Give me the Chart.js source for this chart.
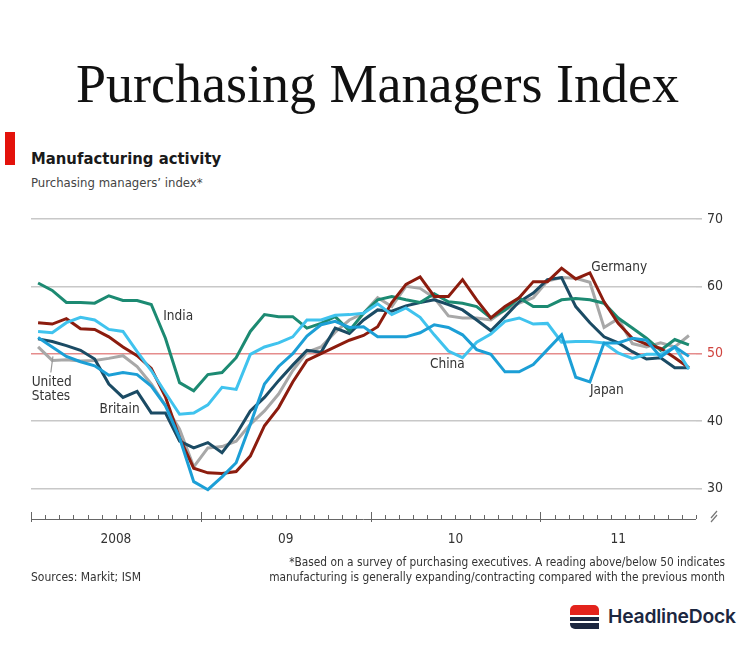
<!DOCTYPE html>
<html>
<head>
    <meta charset="utf-8">
    <title>Purchasing Managers Index</title>
    <script src="https://cdn.jsdelivr.net/npm/chart.js"></script>
    <style>
        body { margin: 0; background: #fff; }
        #page { position: relative; width: 755px; height: 650px; overflow: hidden; font-family: 'DejaVu Sans Condensed', sans-serif; color: #333; }
        .abs { position: absolute; white-space: nowrap; }
        #bigtitle { left: 0; width: 755px; top: 57px; text-align: center; font-family: 'Liberation Serif', serif; font-size: 54px; line-height: 54px; color: #111; }
        #redbar { left: 5px; top: 132px; width: 10px; height: 33px; background: #e3120b; }
        #title { left: 31px; top: 149px; font-size: 16.5px; font-weight: bold; color: #1a1a1a; }
        #subtitle { left: 31px; top: 175px; font-size: 13px; color: #444; }
        #chartbox { left: 0; top: 200px; width: 755px; height: 380px; }
        #note { right: 30px; top: 555px; font-size: 11.8px; line-height: 15px; text-align: right; color: #333; }
        #source { left: 31px; top: 570px; font-size: 12px; color: #333; }
        #logo { left: 570px; top: 605px; width: 30px; height: 25px; }
        #logo div { position: absolute; left: 0; width: 29px; }
        #logotext { left: 608px; top: 604px; font-family: Inter, sans-serif; font-weight: 600; font-size: 19.3px; color: #1c2740; letter-spacing: -0.2px; }
    </style>
</head>
<body>
<div id="page">
    <div class="abs" id="bigtitle">Purchasing Managers Index</div>
    <div class="abs" id="redbar"></div>
    <div class="abs" id="title">Manufacturing activity</div>
    <div class="abs" id="subtitle">Purchasing managers’ index*</div>
    <div class="abs" id="chartbox"><canvas id="pmiChart"></canvas></div>
    <div class="abs" id="note">*Based on a survey of purchasing executives. A reading above/below 50 indicates<br>manufacturing is generally expanding/contracting compared with the previous month</div>
    <div class="abs" id="source">Sources: Markit; ISM</div>
    <div class="abs" id="logo">
        <div style="top:0;height:10px;background:#e3231c;border-radius:5px 5px 0 0;"></div>
        <div style="top:12px;height:4px;background:#1c2740;"></div>
        <div style="top:18px;height:6px;background:#1c2740;border-radius:0 0 0 5px;"></div>
    </div>
    <div class="abs" id="logotext">HeadlineDock</div>
</div>

<script>
    // months Jan 2008 .. Nov 2011
    var months = [];
    for (var yr = 2008; yr <= 2011; yr++) {
        for (var mo = 1; mo <= 12; mo++) {
            if (yr === 2011 && mo > 11) break;
            months.push(yr + "-" + mo);
        }
    }

    var india = [60.5, 59.4, 57.6, 57.6, 57.5, 58.6, 57.9, 57.9, 57.3, 52.3, 45.7, 44.5,
                 46.9, 47.2, 49.4, 53.3, 55.8, 55.5, 55.5, 53.8, 54.5, 55.5, 53.4, 56.0,
                 58.0, 58.5, 58.0, 57.6, 58.9, 57.7, 57.5, 57.0, 55.3, 56.5, 58.3, 57.0,
                 57.0, 58.0, 58.2, 58.0, 57.5, 55.3, 53.8, 52.3, 50.5, 52.1, 51.3];
    var germany = [54.6, 54.4, 55.2, 53.7, 53.6, 52.5, 51.0, 49.7, 47.8, 43.6, 37.5, 33.0,
                   32.3, 32.2, 32.5, 34.8, 39.3, 42.0, 45.8, 49.0, 50.0, 51.0, 52.0, 52.7,
                   54.0, 57.6, 60.3, 61.4, 58.5, 58.5, 61.0, 58.0, 55.3, 57.0, 58.3, 60.7,
                   60.7, 62.7, 61.1, 62.0, 57.7, 54.5, 52.3, 51.4, 50.8, 49.4, 47.9];
    var britain = [52.2, 51.8, 51.2, 50.5, 49.2, 45.5, 43.5, 44.4, 41.2, 41.2, 37.0, 36.0,
                   36.8, 35.3, 38.0, 41.5, 43.5, 46.0, 48.3, 50.5, 50.2, 53.8, 53.0, 55.0,
                   56.5, 56.3, 57.1, 57.6, 58.0, 57.3, 56.5, 55.0, 53.4, 55.5, 57.7, 59.0,
                   61.0, 61.3, 57.0, 54.6, 52.5, 51.6, 50.3, 49.2, 49.4, 47.9, 47.9];
    var unitedStates = [51.0, 49.0, 49.1, 48.9, 49.0, 49.3, 49.7, 48.1, 45.5, 42.3, 38.8, 33.2,
                        36.0, 36.2, 37.0, 39.5, 41.5, 44.0, 47.5, 50.2, 51.0, 53.2, 55.0, 56.0,
                        58.3, 57.0, 60.0, 59.7, 58.3, 55.6, 55.3, 55.3, 55.0, 56.5, 57.5, 58.3,
                        60.8, 61.3, 61.2, 60.6, 53.9, 55.2, 51.5, 51.0, 51.6, 51.0, 52.7];
    var china = [53.3, 53.1, 54.6, 55.4, 55.0, 53.6, 53.3, 50.3, 47.5, 44.2, 41.0, 41.2,
                 42.4, 45.0, 44.7, 49.9, 51.0, 51.6, 52.5, 55.0, 55.0, 55.7, 55.8, 56.0,
                 57.4, 55.8, 56.8, 55.4, 52.8, 50.4, 49.4, 51.7, 52.9, 54.8, 55.3, 54.4,
                 54.5, 51.7, 51.8, 51.8, 51.6, 50.1, 49.3, 49.9, 49.9, 51.0, 47.7];
    var japan = [52.4, 51.0, 49.6, 48.8, 48.2, 46.8, 47.2, 46.9, 45.2, 42.3, 37.5, 31.0,
                 29.8, 31.7, 33.8, 39.5, 45.5, 48.1, 50.0, 52.6, 54.3, 54.8, 53.9, 54.0,
                 52.5, 52.5, 52.5, 53.1, 54.3, 53.9, 52.8, 50.6, 49.9, 47.3, 47.3, 48.4,
                 50.6, 52.8, 46.5, 45.8, 51.6, 51.6, 52.3, 52.0, 49.5, 51.0, 49.6];

    var yTicks = [30, 40, 50, 60, 70];
    var yearLabels = ["2008", "09", "10", "11"];
    var yearLabelMonth = [6, 18, 30, 41.5];

    var textFont = "'DejaVu Sans Condensed', sans-serif";

    function toPoints(values) {
        return values.map(function (v, i) { return { x: i + 0.5, y: v }; });
    }

    function series(label, values, color) {
        return {
            label: label,
            data: toPoints(values),
            borderColor: color,
            borderWidth: 3,
            pointRadius: 0,
            tension: 0,
            fill: false
        };
    }

    // line labels, placed in data units (month index, index value)
    var lineLabels = [
        { text: "India", m: 9.35, v: 55.5 },
        { text: "United", m: 0.05, v: 45.7 },
        { text: "States", m: 0.05, v: 43.6 },
        { text: "Britain", m: 4.85, v: 41.7 },
        { text: "China", m: 28.2, v: 48.4 },
        { text: "Japan", m: 39.5, v: 44.5 },
        { text: "Germany", m: 39.6, v: 62.8 }
    ];

    var axisExtras = {
        id: "axisExtras",
        afterDraw: function (chart) {
            var ctx = chart.ctx;
            var xs = chart.scales.x, ys = chart.scales.y;
            var base = chart.chartArea.bottom;
            ctx.save();
            // baseline and monthly ticks
            ctx.strokeStyle = "#666";
            ctx.lineWidth = 1;
            ctx.beginPath();
            ctx.moveTo(chart.chartArea.left, base + 0.5);
            ctx.lineTo(chart.chartArea.right, base + 0.5);
            for (var m = 0; m <= months.length; m++) {
                var px = Math.round(xs.getPixelForValue(m)) + 0.5;
                var major = m % 12 === 0;
                ctx.moveTo(px, base - (major ? 7 : 4));
                ctx.lineTo(px, base + (major ? 3 : 0));
            }
            ctx.stroke();
            // axis break mark
            var bx = chart.chartArea.right + 18;
            ctx.strokeStyle = "#777";
            ctx.lineWidth = 1.2;
            ctx.beginPath();
            ctx.moveTo(bx - 3, base - 1); ctx.lineTo(bx + 3, base - 8);
            ctx.moveTo(bx - 3, base + 3); ctx.lineTo(bx + 3, base - 4);
            ctx.stroke();
            // US leader line
            ctx.strokeStyle = "#999";
            ctx.lineWidth = 1.2;
            ctx.beginPath();
            ctx.moveTo(xs.getPixelForValue(1.55), ys.getPixelForValue(49.6));
            ctx.lineTo(xs.getPixelForValue(1.4), ys.getPixelForValue(47.2));
            ctx.stroke();
            // line labels
            ctx.fillStyle = "#333";
            ctx.font = "13.5px " + textFont;
            ctx.textAlign = "left";
            ctx.textBaseline = "middle";
            lineLabels.forEach(function (l) {
                ctx.fillText(l.text, xs.getPixelForValue(l.m), ys.getPixelForValue(l.v));
            });
            ctx.restore();
        }
    };

    var ctx = document.getElementById("pmiChart").getContext("2d");
    var chart = new Chart(ctx, {
        type: "line",
        data: {
            datasets: [
                series("Japan", japan, "#1c9fd6"),
                series("China", china, "#40c3ee"),
                series("Germany", germany, "#8c1c0e"),
                series("India", india, "#1c8a72"),
                series("Britain", britain, "#1b4b64"),
                series("United States", unitedStates, "#a8a8a8")
            ]
        },
        options: {
            responsive: true,
            maintainAspectRatio: false,
            animation: false,
            layout: { padding: { left: 31, top: 19, right: 0, bottom: 0 } },
            plugins: {
                legend: { display: false },
                tooltip: { enabled: false }
            },
            scales: {
                x: {
                    type: "linear",
                    min: 0,
                    max: months.length,
                    grid: { display: false, drawTicks: false },
                    border: { display: false },
                    afterBuildTicks: function (scale) {
                        scale.ticks = yearLabelMonth.map(function (v) { return { value: v }; });
                    },
                    afterFit: function (scale) { scale.height = 61; },
                    ticks: {
                        autoSkip: false,
                        maxRotation: 0,
                        padding: 12,
                        color: "#333",
                        font: { family: textFont, size: 13.5 },
                        callback: function (value) {
                            var k = yearLabelMonth.indexOf(value);
                            return k >= 0 ? yearLabels[k] : "";
                        }
                    }
                },
                y: {
                    position: "right",
                    min: 25.45,
                    max: 70,
                    afterBuildTicks: function (scale) {
                        scale.ticks = yTicks.map(function (v) { return { value: v }; });
                    },
                    afterFit: function (scale) { scale.width = 59; },
                    border: { display: false },
                    grid: {
                        color: function (c) { return c.tick && c.tick.value === 50 ? "#e58c8c" : "#c8c8c8"; },
                        tickColor: function (c) { return c.tick && c.tick.value === 50 ? "#e58c8c" : "#c8c8c8"; },
                        lineWidth: 1.6,
                        tickLength: 6,
                        drawTicks: true
                    },
                    ticks: {
                        padding: 5,
                        color: function (c) { return c.tick && c.tick.value === 50 ? "#d0443f" : "#333"; },
                        font: { family: textFont, size: 14 }
                    }
                }
            }
        },
        plugins: [axisExtras]
    });
</script>
</body>
</html>
